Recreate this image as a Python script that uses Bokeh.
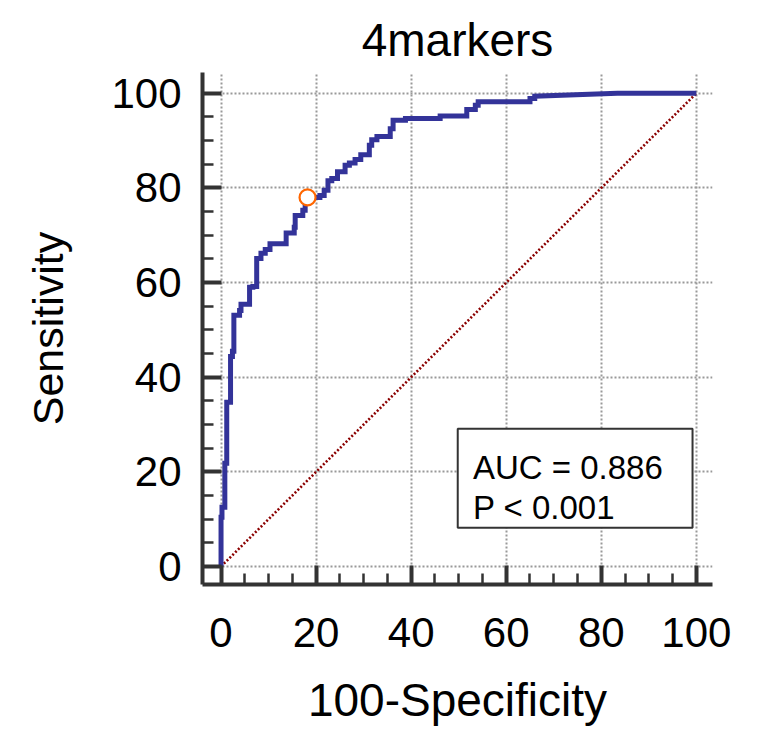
from bokeh.plotting import figure
from bokeh.models import Range1d, FixedTicker
from bokeh.core.properties import value
from bokeh.embed import file_html
from bokeh.resources import INLINE

# ROC step corner points (100-Specificity, Sensitivity)
fpr = [0, 0, 0.2, 0.8, 1.2, 2.0, 2.4, 2.7, 3.9, 4.2, 6.0, 6.7, 7.5, 8.4, 9.3, 10.3,
       13.7, 15.4, 15.6, 17.2, 17.7, 18.2, 20.8, 21.7, 22.5, 23.3, 24.5, 26.1, 27.0,
       28.2, 29.4, 31.2, 31.7, 32.8, 35.6, 36.2, 38.8, 46.1, 51.7, 53.5, 54.1, 65.0, 66.0]
tpr = [0, 10.4, 12.5, 21.8, 34.7, 44.4, 45.5, 53.1, 54.1, 55.4, 59.0, 59.2, 65.1, 66.2,
       67.0, 68.2, 70.5, 71.7, 74.2, 75.3, 76.7, 78.0, 78.4, 79.5, 81.5, 82.0, 83.4, 84.8,
       85.3, 86.0, 87.0, 89.0, 90.2, 90.9, 92.5, 94.3, 94.7, 95.2, 96.6, 97.5, 98.2, 98.9, 99.4]
tail_fpr = [66.0, 83.4, 100]
tail_tpr = [99.4, 100, 100]

cut_x = [18.2]
cut_y = [78.0]

diag = [0, 100]
ticks = [0, 20, 40, 60, 80, 100]
minor = [v for v in range(5, 100, 5) if v % 20 != 0]

title_text = "4markers"
xlabel = "100-Specificity"
ylabel = "Sensitivity"
auc_lines = ["AUC = 0.886", "P < 0.001"]

FONT = "Liberation Sans"

p = figure(frame_width=510, frame_height=512, output_backend="svg", toolbar_location=None,
           x_range=Range1d(-3.9, 103.4), y_range=Range1d(-3.8, 104.4),
           min_border_left=202, min_border_right=45, min_border_top=72, min_border_bottom=146,
           title=title_text, background_fill_color="white", border_fill_color="white")
p.outline_line_color = None
p.title.text_font = FONT
p.title.text_font_size = "46px"
p.title.text_font_style = "normal"
p.title.align = "center"
p.title.text_color = "black"
p.title.standoff = 14

for ax in (p.xaxis[0], p.yaxis[0]):
    ax.ticker = FixedTicker(ticks=ticks, minor_ticks=minor)
    ax.axis_line_width = 4
    ax.axis_line_color = "#333333"
    ax.major_tick_line_width = 4
    ax.major_tick_line_color = "#333333"
    ax.minor_tick_line_width = 2.5
    ax.minor_tick_line_color = "#333333"
    ax.major_tick_out = 0
    ax.minor_tick_out = 0
    ax.major_tick_in = 19
    ax.minor_tick_in = 11
    ax.major_label_text_font = FONT
    ax.major_label_text_font_size = "42px"
    ax.major_label_text_color = "black"
    ax.axis_label_text_font = FONT
    ax.axis_label_text_font_style = "normal"
    ax.axis_label_text_color = "black"

p.xaxis.axis_label = xlabel
p.yaxis.axis_label = ylabel
p.xaxis.axis_label_text_font_size = "46px"
p.yaxis.axis_label_text_font_size = "43px"
p.xaxis.major_label_standoff = 33
p.yaxis.major_label_standoff = 21
p.xaxis.axis_label_standoff = 24
p.yaxis.axis_label_standoff = 36

for g in (p.xgrid[0], p.ygrid[0]):
    g.ticker = FixedTicker(ticks=ticks)
    g.grid_line_color = "#999999"
    g.grid_line_width = 2
    g.grid_line_dash = "2 2"

# diagonal reference
p.line(diag, diag, line_color="#8B0000", line_width=2.6, line_dash="2 2")

# build step path
xs, ys = [fpr[0]], [tpr[0]]
for i in range(1, len(fpr)):
    xs.append(fpr[i]); ys.append(tpr[i - 1])
    xs.append(fpr[i]); ys.append(tpr[i])
xs += tail_fpr[1:]
ys += tail_tpr[1:]
p.line(xs, ys, line_color="#333399", line_width=5, line_join="miter")

p.scatter(cut_x, cut_y, marker="circle", size=16, line_color="#FF6600", line_width=2.2,
          fill_color="white")

# AUC box
p.quad(left=[49.8], right=[99.2], bottom=[8.2], top=[29.1], fill_color="white",
       line_color="#333333", line_width=2)
p.text(x=[53.0, 53.0], y=[21.0, 12.4], text=auc_lines, text_font=value(FONT),
       text_font_size="33px", text_color="black", text_baseline="alphabetic", text_align="left")

open("out.html", "w").write(file_html(p, INLINE))
